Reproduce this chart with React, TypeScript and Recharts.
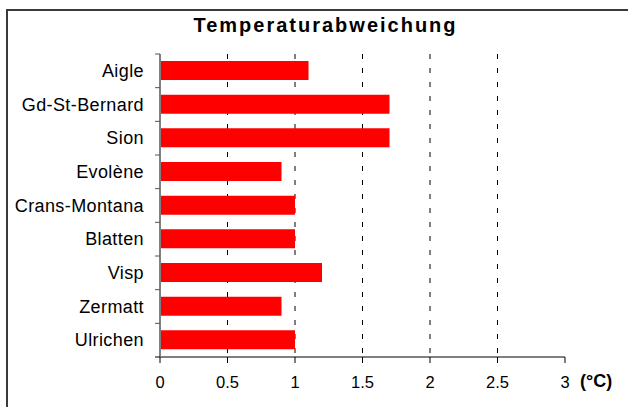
import React from "react";
import { BarChart, Bar, XAxis, YAxis, CartesianGrid } from "recharts";

const stations = ["Aigle", "Gd-St-Bernard", "Sion", "Evolène", "Crans-Montana", "Blatten", "Visp", "Zermatt", "Ulrichen"];
const deviation = [1.1, 1.7, 1.7, 0.9, 1.0, 1.0, 1.2, 0.9, 1.0];
const xTicks = [0, 0.5, 1, 1.5, 2, 2.5, 3];
const gridValues = [0.5, 1, 1.5, 2, 2.5];

const data = stations.map((name, i) => ({ name, value: deviation[i] }));

const FONT = "'Liberation Sans', Arial, sans-serif";

function StationTick(props: any) {
  const { x, y, payload, index } = props;
  const half = payload?.offset ?? 16.85;
  const axisX = x + 16;
  return (
    <g>
      <line x1={axisX - 5} x2={axisX} y1={y - half} y2={y - half} stroke="#555" />
      {index === stations.length - 1 && (
        <line x1={axisX - 5} x2={axisX} y1={y + half} y2={y + half} stroke="#000" />
      )}
      <text x={x} y={y} dy="0.35em" textAnchor="end" fontSize={18} fill="#000" fontFamily={FONT} letterSpacing={0.4}>
        {payload.value}
      </text>
    </g>
  );
}

export default function App() {
  return (
    <div style={{ position: "absolute", left: 0, top: 0, width: 628, height: 407, overflow: "hidden", background: "#fff" }}>
      <div
        style={{
          position: "absolute",
          left: 6,
          top: 9,
          width: 700,
          height: 500,
          border: "2px solid #3a3a3a",
        }}
      />
      <div
        style={{
          position: "absolute",
          left: 0,
          width: 651,
          top: 14,
          textAlign: "center",
          fontFamily: FONT,
          fontWeight: "bold",
          fontSize: 20,
          letterSpacing: 2,
        }}
      >
        Temperaturabweichung
      </div>
      <div
        style={{
          position: "absolute",
          left: 580,
          top: 371,
          fontFamily: FONT,
          fontWeight: "bold",
          fontSize: 18,
        }}
      >
        (°C)
      </div>
      <div style={{ position: "absolute", left: 0, top: 0 }}>
        <BarChart
          width={628}
          height={407}
          layout="vertical"
          data={data}
          margin={{ top: 54, right: 63, bottom: 20, left: 10 }}
        >
          <CartesianGrid horizontal={false} stroke="#000" strokeDasharray="5 9" verticalValues={gridValues} />
          <XAxis
            type="number"
            domain={[0, 3]}
            ticks={xTicks}
            interval={0}
            height={30}
            stroke="#000"
            tickSize={6}
            tickMargin={13}
            tick={{ fill: "#000", fontSize: 16.5, fontFamily: FONT }}
          />
          <YAxis
            type="category"
            dataKey="name"
            width={150}
            axisLine={{ stroke: "#808080", strokeWidth: 2 }}
            tickLine={false}
            tickSize={5}
            tickMargin={11}
            interval={0}
            tick={<StationTick />}
          />
          <Bar dataKey="value" fill="#ff0000" barSize={19} isAnimationActive={false} />
        </BarChart>
      </div>
    </div>
  );
}
